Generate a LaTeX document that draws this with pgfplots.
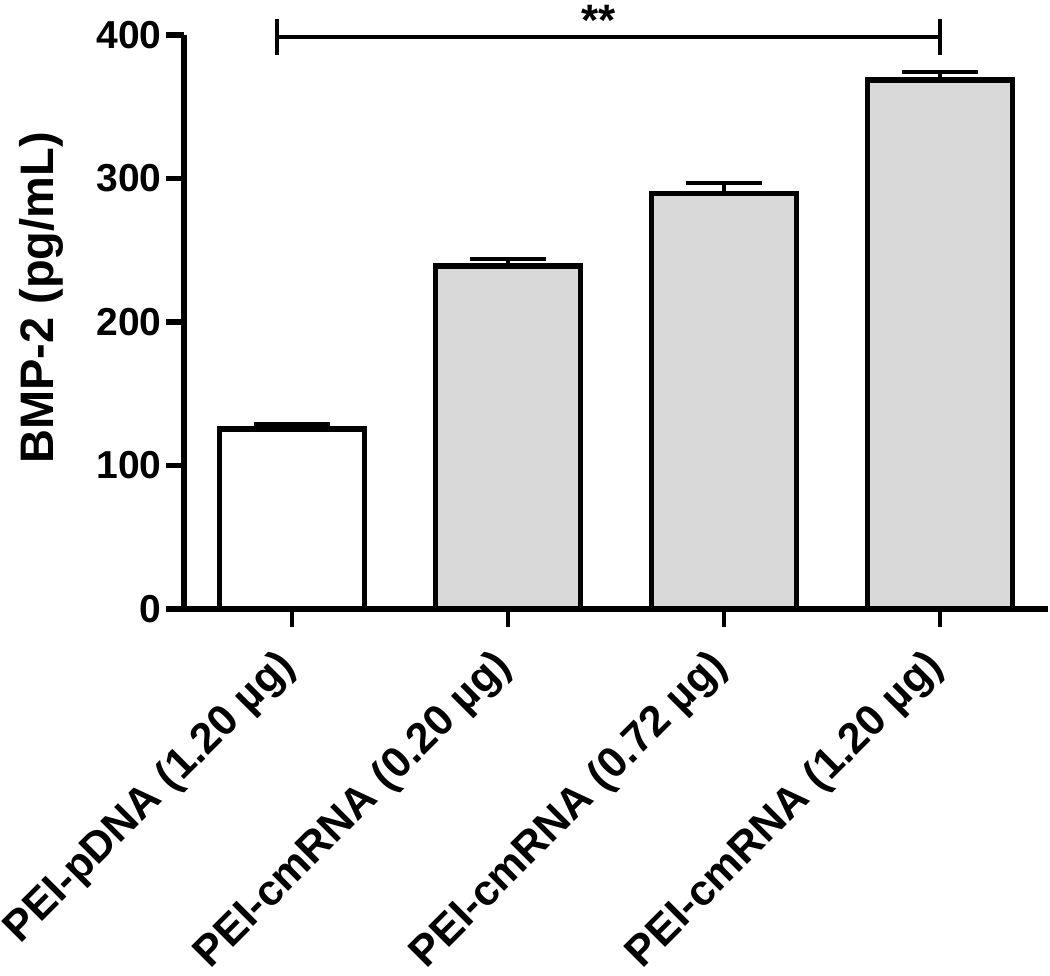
\documentclass[border=0pt]{standalone}
\usepackage{pgfplots}
\pgfplotsset{compat=1.18}
\usepackage{fontspec}
\setmainfont{Liberation Sans}
\definecolor{barfill}{RGB}{217,217,217}
\begin{document}
\begin{tikzpicture}
\begin{axis}[
  name=ax,
  scale only axis,
  width=432pt, height=287pt,
  xmin=-0.5, xmax=3.5, ymin=0, ymax=400,
  axis x line=bottom, axis y line=left,
  axis line style={-, line width=2.8pt},
  ytick={0,100,200,300,400},
  xtick={0,1,2,3},
  xticklabels={PEI-pDNA (1.20 µg), PEI-cmRNA (0.20 µg), PEI-cmRNA (0.72 µg), PEI-cmRNA (1.20 µg)},
  tick align=outside,
  major tick length=9pt,
  ytick style={line width=2.8pt, black},
  xtick style={line width=2pt, black},
  /pgf/number format/assume math mode=true,
  yticklabel style={font=\fontsize{19.5}{20}\selectfont\bfseries, inner sep=2pt},
  xticklabel style={font=\fontsize{21.5}{22}\selectfont\bfseries, rotate=45, anchor=east, inner sep=0pt, xshift=-12.8pt, yshift=-10.5pt},
  every axis y label/.style={at={(axis description cs:-0.1655,0.542)}, rotate=90, anchor=center, font=\fontsize{23.5}{24}\selectfont\bfseries},
  ylabel={BMP-2 (pg/mL)},
  clip=false,
]
\addplot[ybar, bar shift=0pt, bar width=0.672, fill=white, draw=black, line width=2.6pt,
  error bars/.cd, y dir=plus, y explicit,
  error bar style={line width=2pt, black},
  error mark options={rotate=90, mark size=19pt, line width=2.2pt, black}]
  coordinates {(0,125.4) +- (0,3.5)};
\addplot[ybar, bar shift=0pt, bar width=0.672, fill=barfill, draw=black, line width=2.6pt,
  error bars/.cd, y dir=plus, y explicit,
  error bar style={line width=2pt, black},
  error mark options={rotate=90, mark size=19pt, line width=2.2pt, black}]
  coordinates {(1,239.0) +- (0,4.7) (2,289.7) +- (0,7.0) (3,368.6) +- (0,5.6)};
% significance bracket
\addplot[black, line width=2pt, no marks, forget plot] coordinates {(-0.07,398.6) (3.0,398.6)};
\addplot[black, line width=2.2pt, no marks, forget plot] coordinates {(-0.07,386) (-0.07,411)};
\addplot[black, line width=2.2pt, no marks, forget plot] coordinates {(3.0,386) (3.0,411)};
\node[font=\fontsize{22}{22}\selectfont\bfseries, anchor=north, inner sep=0pt] at (axis cs:1.42,421) {**};
\end{axis}
\pgfresetboundingbox
\path[use as bounding box] (ax.south west) ++(-92pt,-183pt) rectangle ++(525pt,487.5pt);
\end{tikzpicture}
\end{document}
